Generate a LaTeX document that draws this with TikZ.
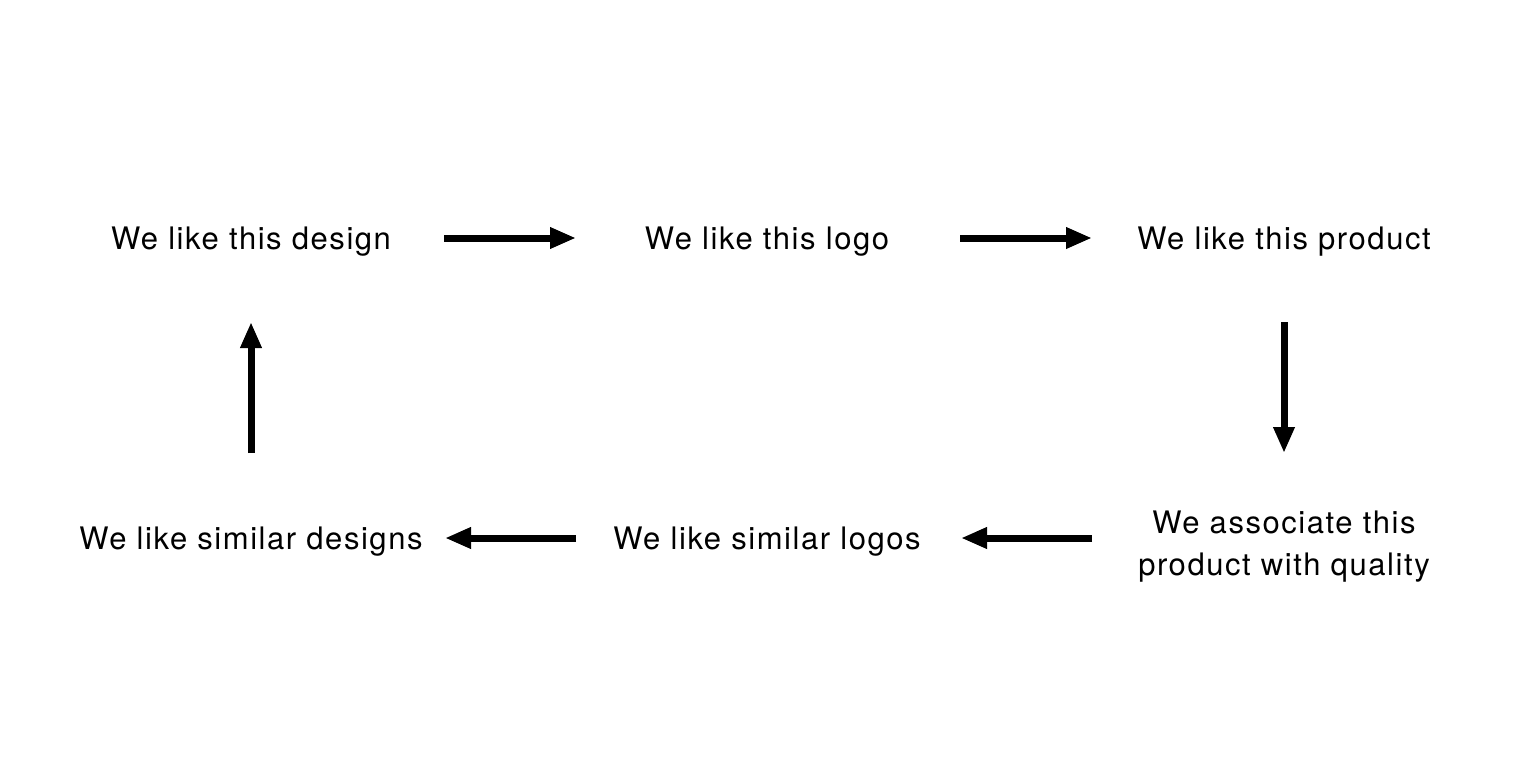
\documentclass[tikz,border=0pt]{standalone}
\usepackage{fontspec}
\setmainfont{TeX Gyre Heros}[LetterSpace=5]
\usetikzlibrary{arrows.meta}
\begin{document}
\begin{tikzpicture}[x=1pt,y=-1pt,
  lbl/.style={inner sep=0pt,font=\fontsize{31}{41}\selectfont,text height=23pt,text depth=0pt},
  arr/.style={line width=7pt,-{Triangle[length=26pt,width=20pt]}}]
\useasboundingbox[fill=white] (0,0) rectangle (1536,776);
\node[lbl] (d1) at (251,238) {We like this design};
\node[lbl] (l1) at (767,238) {We like this logo};
\node[lbl] (p1) at (1284,238) {We like this product};
\node[lbl] (d2) at (251,538) {We like similar designs};
\node[lbl] (l2) at (767,538) {We like similar logos};
\node[inner sep=0pt,font=\fontsize{31}{42}\selectfont,align=center,anchor=base] (q) at (1284,575) {We associate this\\product with quality};
\draw[arr] ([xshift=193pt]d1.center) -- ([xshift=-191pt]l1.center);
\draw[arr] ([xshift=193pt]l1.center) -- ([xshift=-192pt]p1.center);
\draw[arr] ([yshift=-84pt]p1.center) -- ([yshift=122pt]q.base);
\draw[arr] ([xshift=-192pt,yshift=37pt]q.base) -- ([xshift=194pt]l2.center);
\draw[arr] ([xshift=-191pt]l2.center) -- ([xshift=194pt]d2.center);
\draw[arr] ([yshift=85pt]d2.center) -- ([yshift=-84pt]d1.center);
\end{tikzpicture}
\end{document}
